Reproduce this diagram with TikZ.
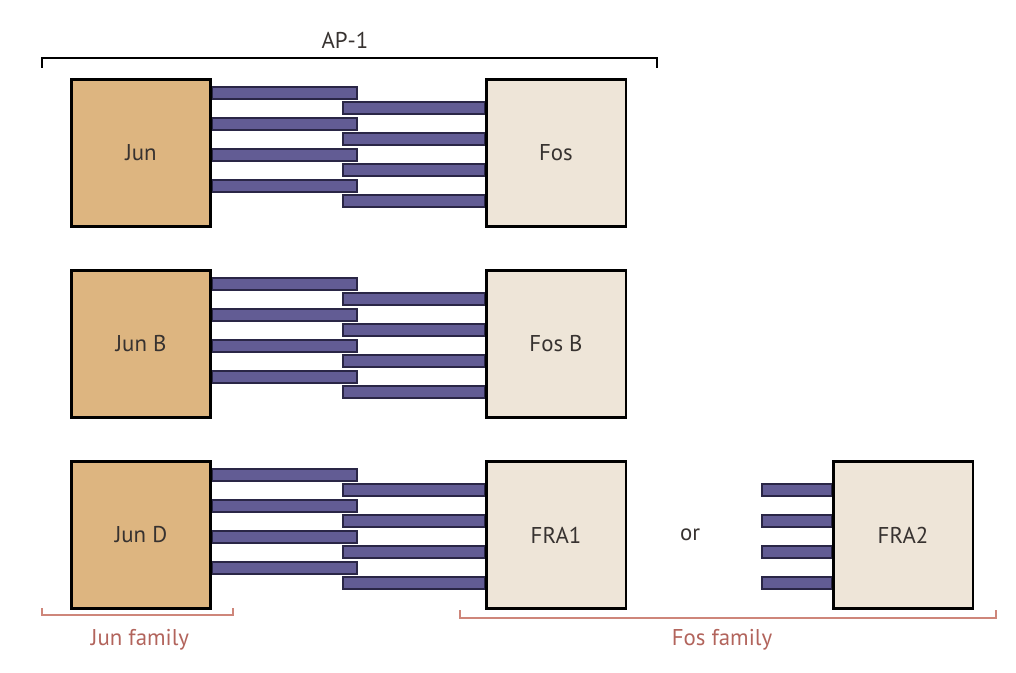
\documentclass[tikz,border=0pt]{standalone}
\usepackage{fontspec}
\setmainfont{PT Sans}
\definecolor{junfill}{RGB}{221,181,128}
\definecolor{fosfill}{RGB}{238,229,216}
\definecolor{barfill}{RGB}{98,92,148}
\definecolor{barline}{RGB}{42,38,70}
\definecolor{famline}{RGB}{206,134,122}
\definecolor{famtext}{RGB}{178,100,92}
\definecolor{inktext}{RGB}{55,50,48}
\begin{document}
\begin{tikzpicture}[x=0.02cm, y=-0.02cm,
  protbox/.style={draw=black, line width=1.7pt, minimum width=2.8cm, minimum height=2.94cm,
                  inner sep=0pt, text=inktext, font=\fontsize{13}{15}\selectfont},
  junbox/.style={protbox, fill=junfill},
  fosbox/.style={protbox, fill=fosfill},
  zipbar/.style={fill=barfill, draw=barline, line width=0.9pt},
  ap/.style={draw=black, line width=1.2pt},
  fam/.style={draw=famline, line width=1.4pt},
  famlabel/.style={text=famtext, font=\fontsize{13}{15}\selectfont}]

\useasboundingbox (0,0) rectangle (1016,672);

%=== Three Jun/Fos pairs, one per row ===
\def\rowtop{79}
\foreach \jn/\fn/\nm [count=\i from 0] in {Jun/Fos/r1, Jun B/Fos B/r2, Jun D/FRA1/r3} {
  \pgfmathsetmacro{\ty}{\rowtop+191*\i}
  \node[junbox] (jun\nm) at (141,\ty+74) {\jn};
  \node[fosbox] (fos\nm) at (556,\ty+74) {\fn};
  % zipper bars: four from the Jun side, four from the Fos side
  \foreach \k in {0,...,3} {
    \pgfmathsetmacro{\ya}{\ty+14+31*\k}
    \pgfmathsetmacro{\yb}{\ty+29+31*\k}
    \draw[zipbar] (jun\nm.east |- 0,\ya-6) rectangle (357,\ya+6);
    \draw[zipbar] (343,\yb-6) rectangle (fos\nm.west |- 0,\yb+6);
  }
}

%=== FRA2 alternative ===
\node[text=inktext, font=\fontsize{13}{15}\selectfont] (orlabel) at (690,535) {or};
\node[fosbox] (fra2) at (903,535) {FRA2};
\foreach \k in {0,...,3} {
  \pgfmathsetmacro{\yb}{79+382+29+31*\k}
  \draw[zipbar] (762,\yb-6) rectangle (fra2.west |- 0,\yb+6);
}

%=== Brackets and labels ===
\draw[ap] (42,68) -- (42,58) -- (657,58) -- (657,68);
\node[text=inktext, font=\fontsize{13}{15}\selectfont] (aplabel) at (345,40) {AP-1};

\draw[fam] (42,608) -- (42,615) -- (233,615) -- (233,608);
\node[famlabel] (junfam) at (140,640) {Jun family};

\draw[fam] (460,610) -- (460,618) -- (996,618) -- (996,610);
\node[famlabel] (fosfam) at (722,640) {Fos family};

\end{tikzpicture}
\end{document}
